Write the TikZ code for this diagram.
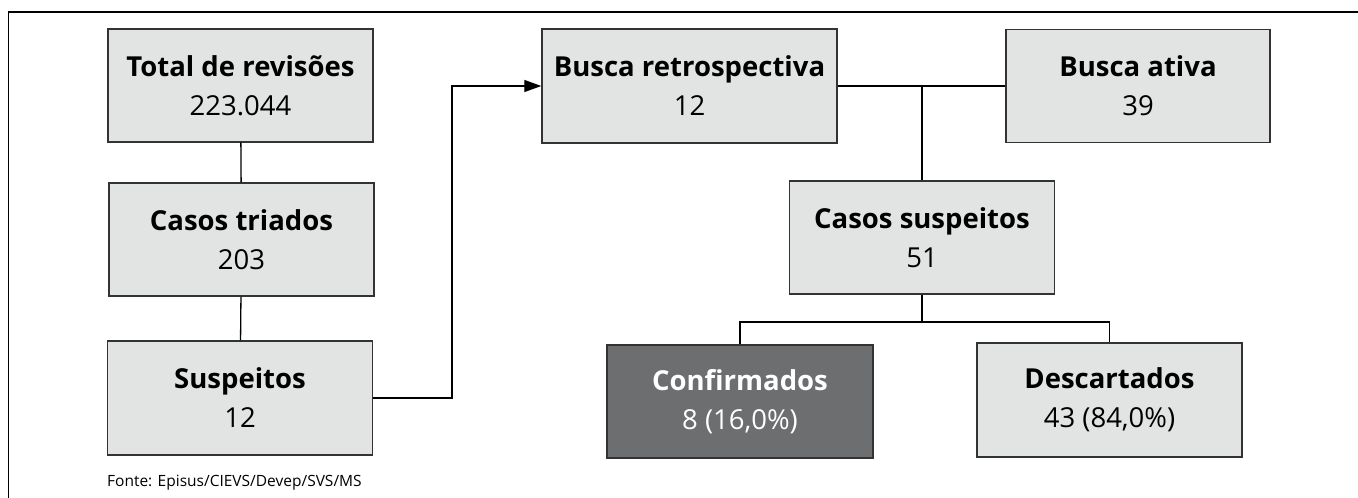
\documentclass[tikz,border=0pt]{standalone}
\usepackage{fontspec}
\setmainfont{Open Sans}
\usetikzlibrary{arrows.meta}

\definecolor{boxfill}{HTML}{E2E3E3}
\definecolor{boxline}{HTML}{333333}
\definecolor{darkfill}{HTML}{6D6E70}

\tikzset{
  casebox/.style={draw=boxline, line width=1.4pt, fill=boxfill, align=center,
    minimum width=265pt, minimum height=113pt, inner sep=0pt,
    font=\fontsize{27.5}{39}\selectfont},
  darkbox/.style={casebox, fill=darkfill, text=white},
  link/.style={line width=1.3pt, black}
}

\begin{document}
\begin{tikzpicture}[x=1pt,y=-1pt]
\useasboundingbox (0,0) rectangle (1358,498);
\draw[line width=1.5pt] (8.5,498) -- (8.5,12) -- (1358,12) ;

\node[casebox] (total) at (240.5,85.5) {\textbf{Total de revisões}\\223.044};
\node[casebox] (triados) at (241.5,239.5) {\textbf{Casos triados}\\203};
\node[casebox, minimum height=114pt] (suspeitos) at (240,398) {\textbf{Suspeitos}\\12};
\node[casebox, minimum width=295pt, minimum height=114pt] (retro) at (689.5,86) {\textbf{Busca retrospectiva}\\12};
\node[casebox, minimum width=264pt] (ativa) at (1138,86) {\textbf{Busca ativa}\\39};
\node[casebox] (casos) at (922,237.5) {\textbf{Casos suspeitos}\\51};
\node[darkbox, minimum width=266pt] (confirm) at (740,401.5) {\textbf{Confirmados}\\8 (16,0\%)};
\node[casebox, minimum height=114pt] (descart) at (1109.5,400) {\textbf{Descartados}\\43 (84,0\%)};

\node[anchor=base west, font=\fontsize{15.5}{18}\selectfont, inner sep=0pt] (fonte) at (107,486) {Fonte: Episus/CIEVS/Devep/SVS/MS};

\coordinate (turn) at (452,398);
\coordinate (split) at (922,322);

\draw[link] (total) -- (triados) ;
\draw[link] (triados) -- (suspeitos) ;
\draw[link, -{Triangle[length=17pt,width=12pt]}] (suspeitos.east) -- (turn) |- (retro.west) ;
\draw[link] (retro.east) -- (ativa.west) ;
\draw[link] (casos.north) -- (casos.north |- retro.east) ;
\draw[link] (casos.south) -- (split) ;
\draw[link] (confirm.north) |- (split) -| (descart.north) ;

\end{tikzpicture}
\end{document}
